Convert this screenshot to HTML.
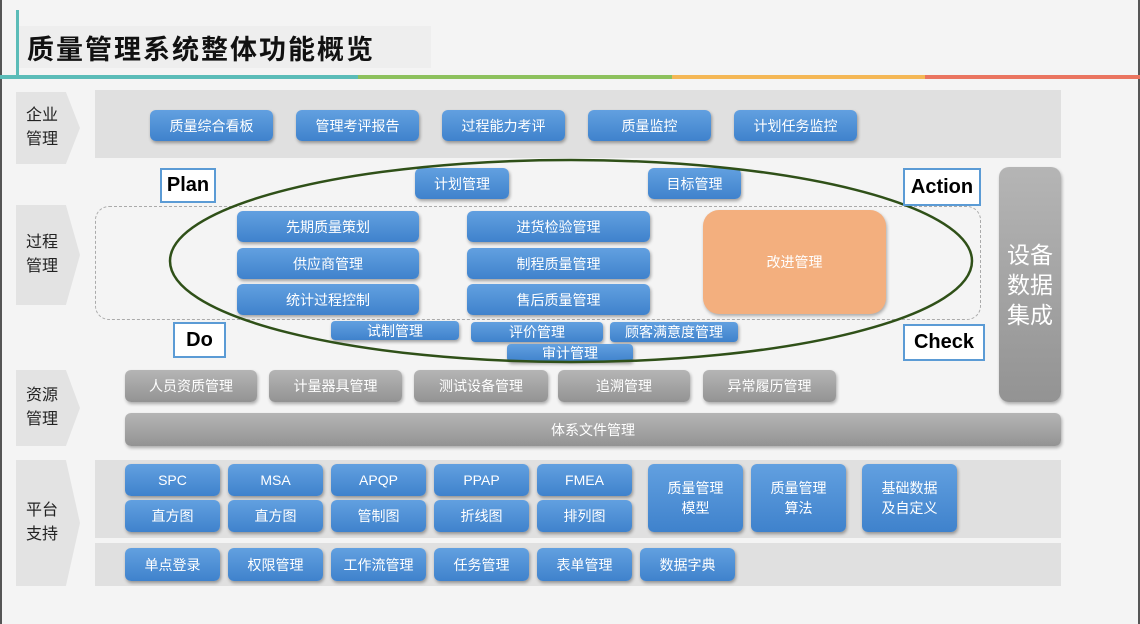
<!DOCTYPE html>
<html><head><meta charset="utf-8"><style>
*{margin:0;padding:0;box-sizing:border-box}
body{width:1140px;height:624px;position:relative;overflow:hidden;background:#f4f4f4;font-family:"Liberation Sans","Noto Sans CJK SC",sans-serif}
.a{position:absolute}
.b{position:absolute;display:flex;align-items:center;justify-content:center;color:#fff;font-size:14px;border-radius:6px;background:linear-gradient(#62a0e0,#3f82cc);box-shadow:1px 2px 3px rgba(0,0,0,.35);text-align:center;line-height:20px}
.g{position:absolute;display:flex;align-items:center;justify-content:center;color:#fff;font-size:14px;border-radius:6px;background:linear-gradient(#b5b5b5,#939393);box-shadow:1px 2px 3px rgba(0,0,0,.3)}
.lab{position:absolute;left:16px;width:64px;background:#e3e3e3;clip-path:polygon(0 0,78% 0,100% 50%,78% 100%,0 100%);font-size:16px;color:#222;display:flex;align-items:center;padding-left:10px;line-height:24px}
.band{position:absolute;background:#e0e0e0}
.pd{position:absolute;border:2px solid #5b9bd5;background:#fff;font-weight:bold;font-size:20px;color:#000;display:flex;align-items:center;justify-content:center}
</style></head><body>
<div class="a" style="left:0;top:0;width:2px;height:624px;background:#555"></div>
<div class="a" style="right:0;top:0;width:2px;height:624px;background:#555"></div>
<div class="a" style="left:16px;top:10px;width:3px;height:68px;background:#5bbcb8"></div>
<div class="a" style="left:19px;top:26px;width:412px;height:42px;background:#eeeeee"></div>
<div class="a" style="left:27px;top:28px;font-size:27px;color:#111;font-weight:bold;letter-spacing:2px">质量管理系统整体功能概览</div>
<div class="a" style="left:0;top:75px;width:358px;height:4px;background:#5bbcb8"></div>
<div class="a" style="left:358px;top:75px;width:314px;height:4px;background:#8dc15d"></div>
<div class="a" style="left:672px;top:75px;width:253px;height:4px;background:#f4b755"></div>
<div class="a" style="left:925px;top:75px;width:215px;height:4px;background:#ea7560"></div>

<div class="lab" style="top:92px;height:72px">企业<br>管理</div>
<div class="lab" style="top:205px;height:100px">过程<br>管理</div>
<div class="lab" style="top:370px;height:76px">资源<br>管理</div>
<div class="lab" style="top:460px;height:126px">平台<br>支持</div>

<div class="band" style="left:95px;top:90px;width:966px;height:68px"></div>
<div class="band" style="left:95px;top:460px;width:966px;height:78px"></div>
<div class="band" style="left:95px;top:543px;width:966px;height:43px"></div>
<div class="a" style="left:95px;top:206px;width:886px;height:114px;border:1px dashed #aaa;border-radius:14px"></div>

<div class="b" style="left:150px;top:110px;width:123px;height:31px">质量综合看板</div>
<div class="b" style="left:296px;top:110px;width:123px;height:31px">管理考评报告</div>
<div class="b" style="left:442px;top:110px;width:123px;height:31px">过程能力考评</div>
<div class="b" style="left:588px;top:110px;width:123px;height:31px">质量监控</div>
<div class="b" style="left:734px;top:110px;width:123px;height:31px">计划任务监控</div>

<div class="b" style="left:415px;top:168px;width:94px;height:31px">计划管理</div>
<div class="b" style="left:648px;top:168px;width:93px;height:31px">目标管理</div>

<div class="b" style="left:237px;top:211px;width:182px;height:31px">先期质量策划</div>
<div class="b" style="left:237px;top:248px;width:182px;height:31px">供应商管理</div>
<div class="b" style="left:237px;top:284px;width:182px;height:31px">统计过程控制</div>
<div class="b" style="left:467px;top:211px;width:183px;height:31px">进货检验管理</div>
<div class="b" style="left:467px;top:248px;width:183px;height:31px">制程质量管理</div>
<div class="b" style="left:467px;top:284px;width:183px;height:31px">售后质量管理</div>
<div class="a" style="left:703px;top:210px;width:183px;height:104px;border-radius:16px;background:#f3af7e;box-shadow:1px 2px 3px rgba(0,0,0,.3);color:#fff;font-size:14px;display:flex;align-items:center;justify-content:center">改进管理</div>

<div class="b" style="left:331px;top:321px;width:128px;height:19px;border-radius:4px">试制管理</div>
<div class="b" style="left:471px;top:322px;width:132px;height:20px;border-radius:4px">评价管理</div>
<div class="b" style="left:610px;top:322px;width:128px;height:20px;border-radius:4px">顾客满意度管理</div>
<div class="b" style="left:507px;top:344px;width:126px;height:18px;border-radius:4px">审计管理</div>

<svg class="a" style="left:0;top:0" width="1140" height="624"><ellipse cx="571" cy="261" rx="401" ry="101" fill="none" stroke="#2f5018" stroke-width="2.5"/></svg>

<div class="pd" style="left:160px;top:168px;width:56px;height:35px">Plan</div>
<div class="pd" style="left:903px;top:168px;width:78px;height:38px">Action</div>
<div class="pd" style="left:173px;top:322px;width:53px;height:36px">Do</div>
<div class="pd" style="left:903px;top:324px;width:82px;height:37px">Check</div>

<div class="g" style="left:999px;top:167px;width:62px;height:235px;font-size:23px;line-height:30px;border-radius:10px;text-align:center">设备<br>数据<br>集成</div>

<div class="g" style="left:125px;top:370px;width:132px;height:32px">人员资质管理</div>
<div class="g" style="left:269px;top:370px;width:133px;height:32px">计量器具管理</div>
<div class="g" style="left:414px;top:370px;width:134px;height:32px">测试设备管理</div>
<div class="g" style="left:558px;top:370px;width:132px;height:32px">追溯管理</div>
<div class="g" style="left:703px;top:370px;width:133px;height:32px">异常履历管理</div>
<div class="g" style="left:125px;top:413px;width:936px;height:33px">体系文件管理</div>

<div class="b" style="left:125px;top:464px;width:95px;height:32px">SPC</div>
<div class="b" style="left:228px;top:464px;width:95px;height:32px">MSA</div>
<div class="b" style="left:331px;top:464px;width:95px;height:32px">APQP</div>
<div class="b" style="left:434px;top:464px;width:95px;height:32px">PPAP</div>
<div class="b" style="left:537px;top:464px;width:95px;height:32px">FMEA</div>
<div class="b" style="left:125px;top:500px;width:95px;height:32px">直方图</div>
<div class="b" style="left:228px;top:500px;width:95px;height:32px">直方图</div>
<div class="b" style="left:331px;top:500px;width:95px;height:32px">管制图</div>
<div class="b" style="left:434px;top:500px;width:95px;height:32px">折线图</div>
<div class="b" style="left:537px;top:500px;width:95px;height:32px">排列图</div>
<div class="b" style="left:648px;top:464px;width:95px;height:68px">质量管理<br>模型</div>
<div class="b" style="left:751px;top:464px;width:95px;height:68px">质量管理<br>算法</div>
<div class="b" style="left:862px;top:464px;width:95px;height:68px">基础数据<br>及自定义</div>

<div class="b" style="left:125px;top:548px;width:95px;height:33px">单点登录</div>
<div class="b" style="left:228px;top:548px;width:95px;height:33px">权限管理</div>
<div class="b" style="left:331px;top:548px;width:95px;height:33px">工作流管理</div>
<div class="b" style="left:434px;top:548px;width:95px;height:33px">任务管理</div>
<div class="b" style="left:537px;top:548px;width:95px;height:33px">表单管理</div>
<div class="b" style="left:640px;top:548px;width:95px;height:33px">数据字典</div>
</body></html>
